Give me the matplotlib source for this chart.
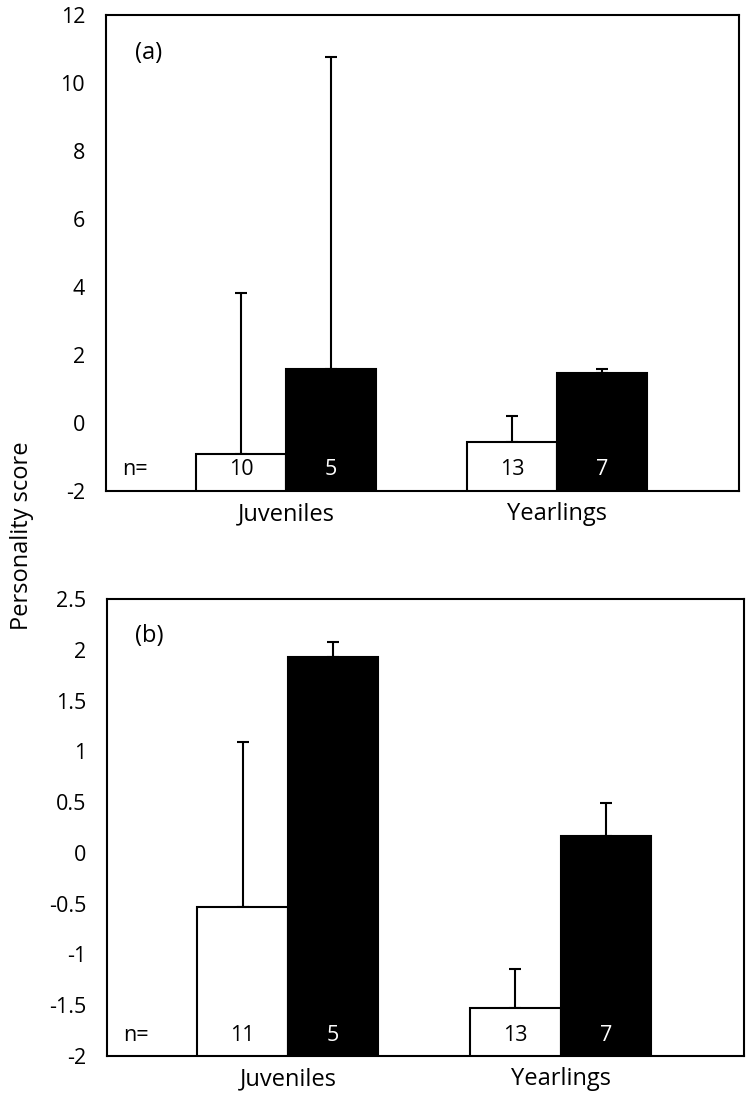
import matplotlib.pyplot as plt
import numpy as np

plt.rcParams['font.family'] = ['Open Sans', 'DejaVu Sans']

# Data
groups = ['Juveniles', 'Yearlings']

# panel (a)
a_white = [-0.91, -0.57]
a_white_err = [4.72, 0.77]
a_black = [1.59, 1.47]
a_black_err = [9.18, 0.13]
a_n_white = [10, 13]
a_n_black = [5, 7]

# panel (b)
b_white = [-0.53, -1.53]
b_white_err = [1.62, 0.39]
b_black = [1.93, 0.17]
b_black_err = [0.15, 0.32]
b_n_white = [11, 13]
b_n_black = [5, 7]

FS = 15.5      # tick labels and sample sizes
FS_LAB = 17    # category names, panel tags, axis title

fig = plt.figure(figsize=(7.46, 10.93), dpi=100)
ax1 = fig.add_axes([0.142, 0.5508, 0.849, 0.4355])
ax2 = fig.add_axes([0.1434, 0.0339, 0.8536, 0.4181])


def draw_panel(ax, white, werr, black, berr, n_white, n_black, ylim, yticks, tag):
    base = ylim[0]
    x = np.arange(len(groups))
    w = 0.332
    xw = x - w / 2
    xb = x + w / 2
    ax.bar(xw, np.array(white) - base, bottom=base, width=w, color='white',
           edgecolor='black', linewidth=1.5, zorder=3)
    ax.bar(xb, np.array(black) - base, bottom=base, width=w, color='black',
           edgecolor='black', linewidth=1.5, zorder=3)
    # upper error bars only
    ax.errorbar(xw, white, yerr=[np.zeros(len(werr)), werr], fmt='none',
                ecolor='black', elinewidth=1.5, capsize=4.5, capthick=1.5, zorder=2)
    ax.errorbar(xb, black, yerr=[np.zeros(len(berr)), berr], fmt='none',
                ecolor='black', elinewidth=1.5, capsize=4.5, capthick=1.5, zorder=2)

    ax.set_ylim(ylim)
    ax.set_xlim(-0.664, 1.672)
    ax.set_yticks(yticks)
    ax.set_yticklabels([('%g' % t) for t in yticks])
    ax.set_xticks(x)
    ax.set_xticklabels(groups)
    ax.tick_params(axis='both', length=0)
    ax.tick_params(axis='y', pad=15, labelsize=FS)
    ax.tick_params(axis='x', pad=8, labelsize=FS_LAB)
    for s in ax.spines.values():
        s.set_linewidth(1.5)

    # sample sizes
    ytxt = base + (ylim[1] - ylim[0]) * 0.045
    for i in range(len(groups)):
        ax.text(xw[i], ytxt, str(n_white[i]), ha='center', va='center',
                fontsize=FS, color='black', zorder=4)
        ax.text(xb[i], ytxt, str(n_black[i]), ha='center', va='center',
                fontsize=FS, color='white', zorder=4)
    ax.text(0.026, ytxt, 'n=', transform=ax.get_yaxis_transform(),
            ha='left', va='center', fontsize=FS)
    ax.text(0.067, 0.92, tag, transform=ax.transAxes, ha='center', va='center',
            fontsize=FS_LAB)


draw_panel(ax1, a_white, a_white_err, a_black, a_black_err, a_n_white, a_n_black,
           (-2, 12), [-2, 0, 2, 4, 6, 8, 10, 12], '(a)')
draw_panel(ax2, b_white, b_white_err, b_black, b_black_err, b_n_white, b_n_black,
           (-2, 2.5), [-2, -1.5, -1, -0.5, 0, 0.5, 1, 1.5, 2, 2.5], '(b)')

fig.text(0.03, 0.51, 'Personality score', rotation=90, ha='center', va='center',
         fontsize=FS_LAB)

fig.savefig('out.png', dpi=100)
